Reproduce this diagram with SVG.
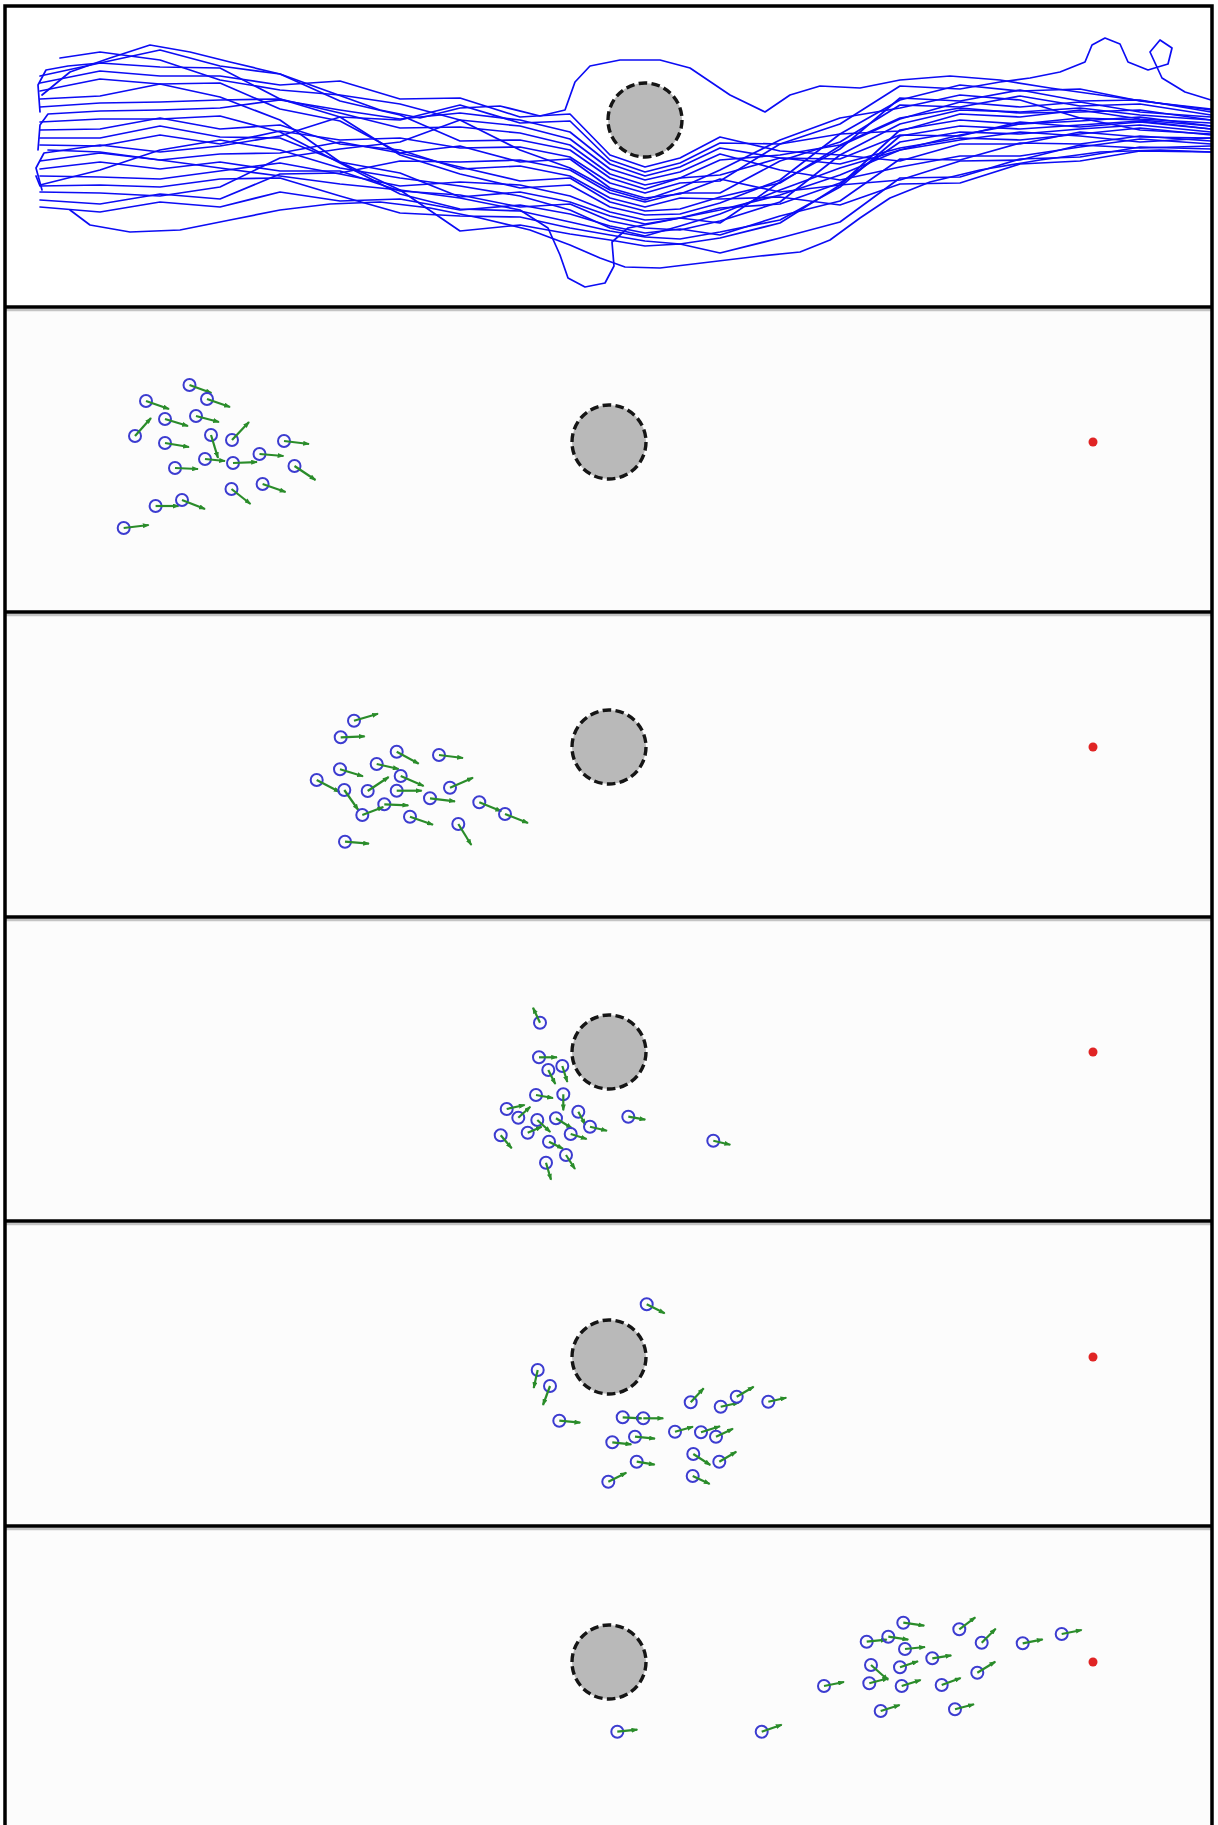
<svg xmlns="http://www.w3.org/2000/svg" width="1218" height="1825" viewBox="0 0 1218 1825">
<style>
.bg1{fill:#ffffff}
.bg{fill:#fcfcfc}
.frame{stroke:#000;stroke-width:3.5;fill:none}
.shadow{stroke:#c4c4c4;stroke-width:2.5}
.traj{fill:none;stroke:#0c0cf4;stroke-width:1.7;stroke-linejoin:round;stroke-linecap:round}
.obs{fill:#b9b9b9;stroke:#151515;stroke-width:3.4;stroke-dasharray:8.6 4.3}
.ag circle{fill:none;stroke:#3c3cd0;stroke-width:2}
.ag line{stroke:#2a8c2a;stroke-width:2.2;marker-end:url(#ah)}
.tgt{fill:#e02424}
</style>
<defs>
<marker id="ah" viewBox="0 0 8 6" refX="7" refY="3" markerWidth="7" markerHeight="5" markerUnits="userSpaceOnUse" orient="auto"><path d="M0,0 L8,3 L0,6 z" fill="#2a8c2a"/></marker>
</defs>

<g id="backgrounds">
<rect class="bg1" x="5" y="6" width="1207" height="301"/>
<rect class="bg" x="5" y="307" width="1207" height="305"/>
<rect class="bg" x="5" y="612" width="1207" height="305"/>
<rect class="bg" x="5" y="917" width="1207" height="304"/>
<rect class="bg" x="5" y="1221" width="1207" height="305"/>
<rect class="bg" x="5" y="1526" width="1207" height="299"/>
</g>

<g id="trajectories">
<path class="traj" d="M40,112 L38,85 L46,70 L68,66 L100,63 L160,50 L220,66 L280,74 L340,101 L400,115 L460,141 L520,140 L570,150 L610,178 L645,189 L680,178 L720,175 L780,158 L840,159 L900,135 L960,136 L1020,122 L1080,127 L1140,122 L1211,129"/>
<path class="traj" d="M40,91 L100,79 L160,84 L220,83 L280,109 L340,121 L400,153 L460,167 L520,181 L570,178 L610,202 L645,211 L680,209 L720,197 L780,183 L840,146 L900,119 L960,102 L1020,107 L1080,102 L1140,112 L1211,117"/>
<path class="traj" d="M38,150 L40,125 L48,114 L100,111 L160,110 L220,108 L280,100 L340,110 L400,119 L460,113 L520,120 L570,132 L610,164 L645,176 L680,167 L720,148 L780,158 L840,164 L900,148 L960,138 L1020,140 L1080,134 L1140,128 L1211,135"/>
<path class="traj" d="M40,138 L100,138 L160,126 L220,137 L280,138 L340,162 L400,173 L460,197 L520,192 L570,202 L610,216 L645,224 L680,218 L720,223 L780,182 L840,149 L900,98 L960,101 L1020,90 L1080,101 L1140,100 L1211,112"/>
<path class="traj" d="M40,161 L100,153 L160,160 L220,154 L280,153 L340,142 L400,153 L460,146 L520,162 L570,159 L610,188 L645,198 L680,194 L720,179 L780,192 L840,185 L900,180 L960,161 L1020,160 L1080,145 L1140,148 L1211,146"/>
<path class="traj" d="M36,176 L40,186 L100,185 L160,187 L220,179 L280,178 L340,196 L400,213 L460,216 L520,217 L570,228 L610,235 L645,241 L680,244 L720,238 L780,223 L840,185 L900,130 L960,120 L1020,124 L1080,121 L1140,117 L1211,126"/>
<path class="traj" d="M40,207 L100,212 L160,202 L220,207 L280,192 L340,201 L400,199 L460,210 L520,205 L570,214 L610,226 L645,233 L680,229 L720,235 L780,216 L840,201 L900,159 L960,160 L1020,143 L1080,144 L1140,136 L1211,141"/>
<path class="traj" d="M40,76 L100,63 L160,67 L220,68 L280,99 L340,117 L400,155 L460,174 L520,188 L570,185 L610,207 L645,215 L680,214 L720,203 L780,180 L840,134 L900,100 L960,85 L1020,91 L1080,89 L1140,101 L1211,109"/>
<path class="traj" d="M40,107 L100,103 L160,102 L220,100 L280,99 L340,113 L400,128 L460,127 L520,133 L570,145 L610,174 L645,185 L680,178 L720,160 L780,155 L840,145 L900,118 L960,108 L1020,113 L1080,112 L1140,110 L1211,120"/>
<path class="traj" d="M40,130 L100,129 L160,118 L220,129 L280,125 L340,144 L400,150 L460,169 L520,166 L570,176 L610,198 L645,207 L680,198 L720,199 L780,197 L840,205 L900,184 L960,183 L1020,164 L1080,161 L1140,151 L1211,152"/>
<path class="traj" d="M42,190 L36,168 L44,153 L100,145 L160,152 L220,146 L280,136 L340,117 L400,120 L460,105 L520,123 L570,121 L610,160 L645,172 L680,163 L720,143 L780,144 L840,134 L900,131 L960,114 L1020,117 L1080,110 L1140,119 L1211,123"/>
<path class="traj" d="M40,176 L100,177 L160,179 L220,171 L280,163 L340,174 L400,186 L460,182 L520,185 L570,196 L610,212 L645,220 L680,218 L720,208 L780,204 L840,183 L900,142 L960,132 L1020,134 L1080,129 L1140,125 L1211,132"/>
<path class="traj" d="M40,200 L100,204 L160,194 L220,199 L280,174 L340,173 L400,161 L460,162 L520,160 L570,170 L610,193 L645,202 L680,193 L720,193 L780,161 L840,142 L900,105 L960,107 L1020,96 L1080,106 L1140,104 L1211,115"/>
<path class="traj" d="M40,83 L100,71 L160,76 L220,76 L280,85 L340,81 L400,99 L460,98 L520,117 L570,114 L610,155 L645,167 L680,158 L720,137 L780,151 L840,155 L900,161 L960,144 L1020,144 L1080,132 L1140,137 L1211,138"/>
<path class="traj" d="M40,122 L100,119 L160,119 L220,116 L280,132 L340,163 L400,194 L460,209 L520,211 L570,222 L610,231 L645,237 L680,239 L720,232 L780,220 L840,187 L900,136 L960,126 L1020,129 L1080,125 L1140,121 L1211,129"/>
<path class="traj" d="M40,145 L100,146 L160,135 L220,144 L280,131 L340,140 L400,138 L460,148 L520,147 L570,157 L610,183 L645,193 L680,183 L720,181 L780,144 L840,124 L900,86 L960,89 L1000,82 L1030,78 L1060,72 L1085,62 L1092,45 L1105,38 L1120,44 L1128,62 L1148,70 L1168,64 L1172,48 L1160,40 L1150,52 L1162,78 L1185,92 L1211,100"/>
<path class="traj" d="M40,169 L100,162 L160,169 L220,162 L280,171 L340,171 L400,191 L460,195 L520,207 L570,204 L610,221 L645,228 L680,230 L720,221 L780,202 L840,155 L900,124 L960,110 L1020,112 L1080,108 L1140,115 L1211,120"/>
<path class="traj" d="M40,192 L100,193 L160,196 L220,187 L280,158 L340,149 L400,142 L460,120 L520,126 L570,139 L610,169 L645,180 L680,172 L720,154 L780,170 L840,180 L900,167 L960,156 L1020,156 L1080,147 L1140,139 L1211,144"/>
<path class="traj" d="M40,99 L100,96 L160,84 L220,97 L280,120 L340,162 L400,190 L460,231 L520,225 L570,234 L610,240 L645,246 L680,244 L720,253 L780,238 L840,222 L900,178 L960,177 L1020,159 L1080,157 L1140,147 L1211,149"/>
<path class="traj" d="M42,95 L70,72 L110,58 L150,45 L190,52 L230,62 L280,74 L330,92 L380,110 L420,118 L460,108 L500,106 L540,116 L565,110 L575,82 L590,66 L620,60 L660,60 L690,68 L730,95 L765,112 L790,95 L820,86 L860,88 L900,80 L950,76 L1000,80 L1050,88 L1100,95 L1150,102 L1211,110"/>
<path class="traj" d="M48,150 L100,152 L160,160 L220,168 L280,176 L340,184 L400,190 L460,198 L520,210 L548,228 L560,255 L568,278 L585,287 L605,283 L614,266 L612,242 L628,228 L660,222 L720,210 L780,195 L840,175 L900,150 L960,135 L1020,124 L1080,118 L1140,120 L1211,126"/>
<path class="traj" d="M70,210 L90,225 L130,232 L180,230 L230,220 L280,210 L330,204 L380,202 L430,208 L480,218 L530,230 L570,245 L600,258 L625,267 L660,268 L710,262 L760,256 L800,252 L830,240 L860,218 L890,198 L930,182 L980,170 L1040,160 L1100,152 L1160,150 L1211,152"/>
<path class="traj" d="M40,185 L100,170 L160,150 L220,140 L280,150 L340,168 L400,178 L460,186 L520,196 L570,210 L610,228 L645,236 L680,226 L720,214 L780,190 L840,168 L900,150 L960,140 L1020,132 L1080,136 L1140,142 L1211,138"/>
<path class="traj" d="M60,58 L100,52 L160,60 L220,80 L280,90 L340,95 L400,104 L460,120 L520,150 L570,168 L610,190 L645,200 L680,188 L720,170 L780,140 L840,118 L900,108 L960,95 L1020,100 L1080,118 L1140,130 L1211,134"/>
</g>

<g id="obstacles">
<circle id="obstacle-1" class="obs" cx="645" cy="120" r="37"/>
<circle id="obstacle-2" class="obs" cx="609" cy="442" r="37"/>
<circle id="obstacle-3" class="obs" cx="609" cy="747" r="37"/>
<circle id="obstacle-4" class="obs" cx="609" cy="1052" r="37"/>
<circle id="obstacle-5" class="obs" cx="609" cy="1357" r="37"/>
<circle id="obstacle-6" class="obs" cx="609" cy="1662" r="37"/>
</g>

<g id="targets">
<circle id="target-2" class="tgt" cx="1093" cy="442" r="4.5"/>
<circle id="target-3" class="tgt" cx="1093" cy="747" r="4.5"/>
<circle id="target-4" class="tgt" cx="1093" cy="1052" r="4.5"/>
<circle id="target-5" class="tgt" cx="1093" cy="1357" r="4.5"/>
<circle id="target-6" class="tgt" cx="1093" cy="1662" r="4.5"/>
</g>

<g id="agents-panel2">
<g id="p2a01" class="ag" transform="translate(189.5,385)"><circle r="6"/><line x2="22" y2="8"/></g>
<g id="p2a02" class="ag" transform="translate(207,399)"><circle r="6"/><line x2="23" y2="8"/></g>
<g id="p2a03" class="ag" transform="translate(146,401)"><circle r="6"/><line x2="23" y2="8"/></g>
<g id="p2a04" class="ag" transform="translate(165,419)"><circle r="6"/><line x2="23" y2="7"/></g>
<g id="p2a05" class="ag" transform="translate(196,416)"><circle r="6"/><line x2="23" y2="6"/></g>
<g id="p2a06" class="ag" transform="translate(135,436)"><circle r="6"/><line x2="16" y2="-18"/></g>
<g id="p2a07" class="ag" transform="translate(165,443)"><circle r="6"/><line x2="24" y2="4"/></g>
<g id="p2a08" class="ag" transform="translate(211,435)"><circle r="6"/><line x2="7" y2="23"/></g>
<g id="p2a09" class="ag" transform="translate(232,440)"><circle r="6"/><line x2="17" y2="-18"/></g>
<g id="p2a10" class="ag" transform="translate(284,441)"><circle r="6"/><line x2="25" y2="3"/></g>
<g id="p2a11" class="ag" transform="translate(205,459)"><circle r="6"/><line x2="20" y2="2"/></g>
<g id="p2a12" class="ag" transform="translate(175,468)"><circle r="6"/><line x2="23" y2="1"/></g>
<g id="p2a13" class="ag" transform="translate(233,463)"><circle r="6"/><line x2="24" y2="-1"/></g>
<g id="p2a14" class="ag" transform="translate(259.5,454)"><circle r="6"/><line x2="24" y2="2"/></g>
<g id="p2a15" class="ag" transform="translate(294.5,466)"><circle r="6"/><line x2="21" y2="14"/></g>
<g id="p2a16" class="ag" transform="translate(231.5,489)"><circle r="6"/><line x2="19" y2="15"/></g>
<g id="p2a17" class="ag" transform="translate(262.6,484)"><circle r="6"/><line x2="23" y2="8"/></g>
<g id="p2a18" class="ag" transform="translate(155.6,506)"><circle r="6"/><line x2="23" y2="0"/></g>
<g id="p2a19" class="ag" transform="translate(182,500)"><circle r="6"/><line x2="23" y2="9"/></g>
<g id="p2a20" class="ag" transform="translate(123.7,528)"><circle r="6"/><line x2="25" y2="-3"/></g>
</g>

<g id="agents-panel3">
<g id="p3a01" class="ag" transform="translate(354,720.7)"><circle r="6"/><line x2="24" y2="-7"/></g>
<g id="p3a02" class="ag" transform="translate(340.7,737.3)"><circle r="6"/><line x2="24" y2="-1"/></g>
<g id="p3a03" class="ag" transform="translate(396.7,751.7)"><circle r="6"/><line x2="22" y2="12"/></g>
<g id="p3a04" class="ag" transform="translate(439,755)"><circle r="6"/><line x2="24" y2="3"/></g>
<g id="p3a05" class="ag" transform="translate(376.7,764)"><circle r="6"/><line x2="22" y2="5"/></g>
<g id="p3a06" class="ag" transform="translate(340,769.3)"><circle r="6"/><line x2="23" y2="7"/></g>
<g id="p3a07" class="ag" transform="translate(400.7,776)"><circle r="6"/><line x2="23" y2="10"/></g>
<g id="p3a08" class="ag" transform="translate(316.7,780)"><circle r="6"/><line x2="23" y2="12"/></g>
<g id="p3a09" class="ag" transform="translate(344.3,790)"><circle r="6"/><line x2="14" y2="20"/></g>
<g id="p3a10" class="ag" transform="translate(367.7,791)"><circle r="6"/><line x2="21" y2="-14"/></g>
<g id="p3a11" class="ag" transform="translate(396.7,790.7)"><circle r="6"/><line x2="25" y2="0"/></g>
<g id="p3a12" class="ag" transform="translate(450,787.7)"><circle r="6"/><line x2="23" y2="-10"/></g>
<g id="p3a13" class="ag" transform="translate(430,798.3)"><circle r="6"/><line x2="25" y2="3"/></g>
<g id="p3a14" class="ag" transform="translate(384.3,804.3)"><circle r="6"/><line x2="24" y2="1"/></g>
<g id="p3a15" class="ag" transform="translate(362.3,815)"><circle r="6"/><line x2="21" y2="-8"/></g>
<g id="p3a16" class="ag" transform="translate(479.3,802.3)"><circle r="6"/><line x2="22" y2="9"/></g>
<g id="p3a17" class="ag" transform="translate(505,814)"><circle r="6"/><line x2="23" y2="9"/></g>
<g id="p3a18" class="ag" transform="translate(410,816.7)"><circle r="6"/><line x2="23" y2="8"/></g>
<g id="p3a19" class="ag" transform="translate(458.3,824)"><circle r="6"/><line x2="13" y2="21"/></g>
<g id="p3a20" class="ag" transform="translate(345,841.7)"><circle r="6"/><line x2="24" y2="2"/></g>
</g>

<g id="agents-panel4">
<g id="p4a01" class="ag" transform="translate(540,1022.7)"><circle r="6"/><line x2="-7" y2="-15"/></g>
<g id="p4a02" class="ag" transform="translate(539,1057.3)"><circle r="6"/><line x2="18" y2="0"/></g>
<g id="p4a03" class="ag" transform="translate(548.3,1070)"><circle r="6"/><line x2="7" y2="14"/></g>
<g id="p4a04" class="ag" transform="translate(562.3,1066)"><circle r="6"/><line x2="5" y2="16"/></g>
<g id="p4a05" class="ag" transform="translate(536,1095)"><circle r="6"/><line x2="17" y2="3"/></g>
<g id="p4a06" class="ag" transform="translate(563.3,1094.3)"><circle r="6"/><line x2="0" y2="16"/></g>
<g id="p4a07" class="ag" transform="translate(506.7,1109)"><circle r="6"/><line x2="18" y2="-4"/></g>
<g id="p4a08" class="ag" transform="translate(518.3,1117.7)"><circle r="6"/><line x2="12" y2="-11"/></g>
<g id="p4a09" class="ag" transform="translate(537.3,1120)"><circle r="6"/><line x2="13" y2="12"/></g>
<g id="p4a10" class="ag" transform="translate(556,1118.3)"><circle r="6"/><line x2="16" y2="10"/></g>
<g id="p4a11" class="ag" transform="translate(578.3,1111.7)"><circle r="6"/><line x2="7" y2="13"/></g>
<g id="p4a12" class="ag" transform="translate(590,1126.7)"><circle r="6"/><line x2="17" y2="4"/></g>
<g id="p4a13" class="ag" transform="translate(628.3,1116.7)"><circle r="6"/><line x2="17" y2="3"/></g>
<g id="p4a14" class="ag" transform="translate(500.7,1135.3)"><circle r="6"/><line x2="11" y2="13"/></g>
<g id="p4a15" class="ag" transform="translate(527.7,1132.7)"><circle r="6"/><line x2="14" y2="-6"/></g>
<g id="p4a16" class="ag" transform="translate(570.7,1134)"><circle r="6"/><line x2="16" y2="5"/></g>
<g id="p4a17" class="ag" transform="translate(549,1141.7)"><circle r="6"/><line x2="14" y2="7"/></g>
<g id="p4a18" class="ag" transform="translate(566,1155)"><circle r="6"/><line x2="9" y2="14"/></g>
<g id="p4a19" class="ag" transform="translate(546,1162.7)"><circle r="6"/><line x2="5" y2="17"/></g>
<g id="p4a20" class="ag" transform="translate(713.3,1140.7)"><circle r="6"/><line x2="17" y2="4"/></g>
</g>

<g id="agents-panel5">
<g id="p5a01" class="ag" transform="translate(646.7,1304.3)"><circle r="6"/><line x2="18" y2="9"/></g>
<g id="p5a02" class="ag" transform="translate(537.7,1370)"><circle r="6"/><line x2="-4" y2="18"/></g>
<g id="p5a03" class="ag" transform="translate(550,1386)"><circle r="6"/><line x2="-7" y2="19"/></g>
<g id="p5a04" class="ag" transform="translate(559.3,1420.7)"><circle r="6"/><line x2="21" y2="2"/></g>
<g id="p5a05" class="ag" transform="translate(622.7,1417.3)"><circle r="6"/><line x2="19" y2="1"/></g>
<g id="p5a06" class="ag" transform="translate(643.3,1418.3)"><circle r="6"/><line x2="20" y2="0"/></g>
<g id="p5a07" class="ag" transform="translate(612.3,1442.3)"><circle r="6"/><line x2="19" y2="2"/></g>
<g id="p5a08" class="ag" transform="translate(635,1436.7)"><circle r="6"/><line x2="20" y2="2"/></g>
<g id="p5a09" class="ag" transform="translate(636.7,1461.7)"><circle r="6"/><line x2="18" y2="3"/></g>
<g id="p5a10" class="ag" transform="translate(608.3,1481.7)"><circle r="6"/><line x2="18" y2="-9"/></g>
<g id="p5a11" class="ag" transform="translate(690.7,1402.3)"><circle r="6"/><line x2="13" y2="-14"/></g>
<g id="p5a12" class="ag" transform="translate(720.7,1406.7)"><circle r="6"/><line x2="18" y2="-4"/></g>
<g id="p5a13" class="ag" transform="translate(736.7,1396.7)"><circle r="6"/><line x2="17" y2="-10"/></g>
<g id="p5a14" class="ag" transform="translate(768.3,1401.7)"><circle r="6"/><line x2="18" y2="-4"/></g>
<g id="p5a15" class="ag" transform="translate(675,1431.7)"><circle r="6"/><line x2="18" y2="-5"/></g>
<g id="p5a16" class="ag" transform="translate(701,1432.3)"><circle r="6"/><line x2="19" y2="-6"/></g>
<g id="p5a17" class="ag" transform="translate(716,1436.7)"><circle r="6"/><line x2="17" y2="-8"/></g>
<g id="p5a18" class="ag" transform="translate(693.3,1454)"><circle r="6"/><line x2="17" y2="11"/></g>
<g id="p5a19" class="ag" transform="translate(719.3,1461.7)"><circle r="6"/><line x2="17" y2="-10"/></g>
<g id="p5a20" class="ag" transform="translate(692.7,1476)"><circle r="6"/><line x2="17" y2="8"/></g>
</g>

<g id="agents-panel6">
<g id="p6a01" class="ag" transform="translate(903.3,1622.7)"><circle r="6"/><line x2="21" y2="3"/></g>
<g id="p6a02" class="ag" transform="translate(959.3,1629.3)"><circle r="6"/><line x2="16" y2="-12"/></g>
<g id="p6a03" class="ag" transform="translate(866.7,1641.7)"><circle r="6"/><line x2="20" y2="-2"/></g>
<g id="p6a04" class="ag" transform="translate(888.3,1636.7)"><circle r="6"/><line x2="20" y2="3"/></g>
<g id="p6a05" class="ag" transform="translate(981.7,1642.7)"><circle r="6"/><line x2="14" y2="-14"/></g>
<g id="p6a06" class="ag" transform="translate(1022.7,1643.3)"><circle r="6"/><line x2="20" y2="-4"/></g>
<g id="p6a07" class="ag" transform="translate(1061.7,1634)"><circle r="6"/><line x2="20" y2="-4"/></g>
<g id="p6a08" class="ag" transform="translate(905,1649)"><circle r="6"/><line x2="20" y2="-2"/></g>
<g id="p6a09" class="ag" transform="translate(932.3,1658.3)"><circle r="6"/><line x2="19" y2="-3"/></g>
<g id="p6a10" class="ag" transform="translate(871,1665)"><circle r="6"/><line x2="17" y2="15"/></g>
<g id="p6a11" class="ag" transform="translate(900,1667.3)"><circle r="6"/><line x2="18" y2="-6"/></g>
<g id="p6a12" class="ag" transform="translate(977.3,1672.7)"><circle r="6"/><line x2="18" y2="-11"/></g>
<g id="p6a13" class="ag" transform="translate(824,1686)"><circle r="6"/><line x2="20" y2="-4"/></g>
<g id="p6a14" class="ag" transform="translate(869.3,1683.3)"><circle r="6"/><line x2="19" y2="-5"/></g>
<g id="p6a15" class="ag" transform="translate(901.7,1686)"><circle r="6"/><line x2="19" y2="-6"/></g>
<g id="p6a16" class="ag" transform="translate(941.7,1685)"><circle r="6"/><line x2="19" y2="-7"/></g>
<g id="p6a17" class="ag" transform="translate(880.7,1711)"><circle r="6"/><line x2="19" y2="-6"/></g>
<g id="p6a18" class="ag" transform="translate(955,1709.3)"><circle r="6"/><line x2="19" y2="-5"/></g>
<g id="p6a19" class="ag" transform="translate(617.3,1731.7)"><circle r="6"/><line x2="20" y2="-2"/></g>
<g id="p6a20" class="ag" transform="translate(761.7,1731.7)"><circle r="6"/><line x2="20" y2="-7"/></g>
</g>

<g id="frame">
<line class="shadow" x1="6" y1="310" x2="1211" y2="310"/>
<line class="shadow" x1="6" y1="615" x2="1211" y2="615"/>
<line class="shadow" x1="6" y1="920" x2="1211" y2="920"/>
<line class="shadow" x1="6" y1="1224" x2="1211" y2="1224"/>
<line class="shadow" x1="6" y1="1529" x2="1211" y2="1529"/>
<path class="frame" d="M5,1825 L5,6 L1212,6 L1212,1825"/>
<line class="frame" x1="4" y1="307" x2="1213" y2="307"/>
<line class="frame" x1="4" y1="612" x2="1213" y2="612"/>
<line class="frame" x1="4" y1="917" x2="1213" y2="917"/>
<line class="frame" x1="4" y1="1221" x2="1213" y2="1221"/>
<line class="frame" x1="4" y1="1526" x2="1213" y2="1526"/>
</g>
</svg>
